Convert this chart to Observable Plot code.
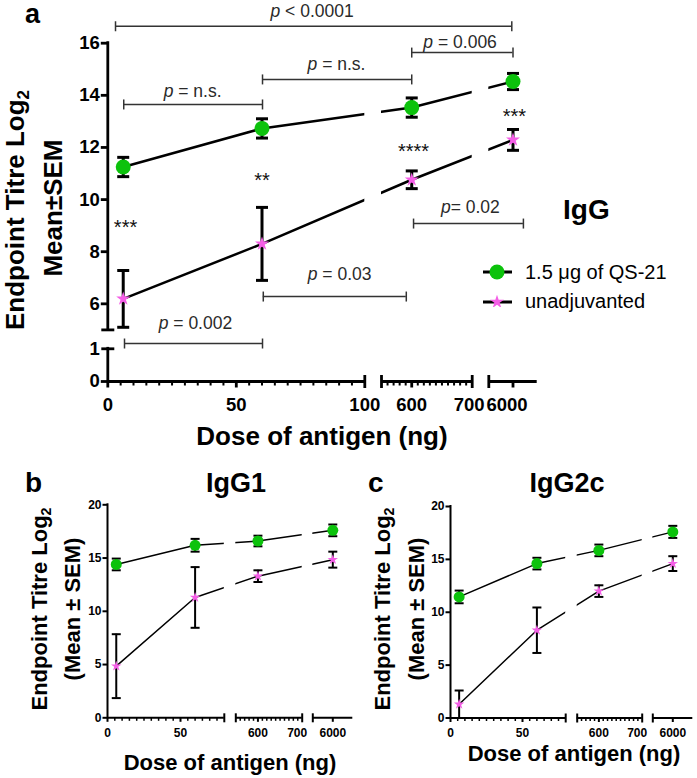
<!DOCTYPE html>
<html><head><meta charset="utf-8">
<script src="https://cdn.jsdelivr.net/npm/d3@7"></script>
<script src="https://cdn.jsdelivr.net/npm/@observablehq/plot@0.6"></script>
<style>
html,body{margin:0;padding:0;background:#fff;}
#root{position:relative;width:697px;height:778px;overflow:hidden;font-family:Arial,"Liberation Sans",Helvetica,sans-serif;color:#000;}
#root svg{position:absolute;}
.abs{position:absolute;white-space:nowrap;line-height:1;}
.rot{transform:translate(-50%,-50%) rotate(-90deg);}
.hc{transform:translateX(-50%);}
.sub{font-size:0.65em;position:relative;top:0.3em;}
</style></head>
<body><div id="root"></div>
<script>
// ---------------- data ----------------
const doses = [6, 60, 600, 6000];
const seriesNames = ["1.5 μg of QS-21", "unadjuvanted"];
// panel a: IgG
const iggQS21 = [11.25, 12.73, 13.53, 14.53];
const iggQS21Sem = [0.37, 0.37, 0.37, 0.31];
const iggUnadj = [6.19, 8.3, 10.76, 12.29];
const iggUnadjSem = [1.09, 1.4, 0.34, 0.4];
// panel b: IgG1
const igg1QS21 = [14.4, 16.2, 16.6, 17.6];
const igg1QS21Sem = [0.55, 0.6, 0.5, 0.55];
const igg1Unadj = [4.85, 11.3, 13.3, 14.85];
const igg1UnadjSem = [3.0, 2.85, 0.55, 0.75];
// panel c: IgG2c
const igg2cQS21 = [11.45, 14.6, 15.85, 17.6];
const igg2cQS21Sem = [0.6, 0.55, 0.55, 0.57];
const igg2cUnadj = [1.3, 8.3, 12.0, 14.6];
const igg2cUnadjSem = [1.3, 2.15, 0.55, 0.7];

// tick labels
const xTickLabelsA = [0, 50, 100, 600, 700, 6000];
const yTickLabelsA = [0, 1, 6, 8, 10, 12, 14, 16];
const xTickLabelsBC = [0, 50, 600, 700, 6000];
const yTickLabelsBC = [0, 5, 10, 15, 20];

// significance annotations (panel a)
const pLabelsA = ["p < 0.0001", "p = n.s.", "p = n.s.", "p = 0.006", "p= 0.02", "p = 0.03", "p = 0.002"];
const pFromA = [3, 6.2, 60.2, 600, 603, 60.5, 6.5];
const pToA = [5950, 60.2, 600, 6000, 6430, 591, 60.2];
const pBarLevelA = [16.65, 13.65, 14.61, 15.64, 9.08, 6.28, 2.12];
const pTextXA = [79.5, 33, 89, 680, 697, 90.2, 34.1];
const pTextLevelA = [16.99, 13.92, 14.99, 15.83, 9.5, 6.93, 5.05];
const starLabelsA = ["***", "**", "****", "***"];
const starXA = [6.9, 60, 603, 6060];
const starLevelA = [8.67, 10.48, 11.59, 12.95];

// ---------------- helpers ----------------
const GREEN = "#0cc20c", PINK = "#f45ee6";
const FONT = "Arial, 'Liberation Sans', Helvetica, sans-serif";
const sym = (f) => ({draw(ctx, size) { const r = Math.sqrt(size / Math.PI); f(ctx, r); }});
const hBar = sym((c, r) => { c.moveTo(-r, 0); c.lineTo(r, 0); });
const vBar = sym((c, r) => { c.moveTo(0, -r); c.lineTo(0, r); });
const vDown = sym((c, r) => { c.moveTo(0, 0); c.lineTo(0, r); });
const hLeft = sym((c, r) => { c.moveTo(0, 0); c.lineTo(-r, 0); });

function rows(vals, sems) { return doses.map((d, i) => ({dose: d, mean: vals[i], sem: sems[i]})); }

function buildPanel(cfg) {
  const s = cfg.style;
  const qs = rows(cfg.qs, cfg.qsSem), un = rows(cfg.un, cfg.unSem);
  const all = qs.concat(un);
  const k = {stroke: "#000", fill: "none"};
  const marks = [
    Plot.line(qs, {x: "dose", y: "mean", stroke: "#000", strokeWidth: s.line}),
    Plot.line(un, {x: "dose", y: "mean", stroke: "#000", strokeWidth: s.line}),
    Plot.rect(cfg.gaps, {x1: d => d[0], x2: d => d[1], y1: cfg.maskY[0], y2: cfg.maskY[1], fill: "#fff"}),
    Plot.ruleX(all, {x: "dose", y1: d => d.mean - d.sem, y2: d => d.mean + d.sem, stroke: "#000", strokeWidth: s.err}),
    Plot.dot(all, {x: "dose", y: d => d.mean + d.sem, symbol: hBar, r: s.cap, strokeWidth: s.err, ...k}),
    Plot.dot(all, {x: "dose", y: d => d.mean - d.sem, symbol: hBar, r: s.cap, strokeWidth: s.err, ...k}),
    Plot.dot(qs, {x: "dose", y: "mean", r: s.dotR, fill: GREEN, stroke: "none"}),
    Plot.dot(un, {x: "dose", y: "mean", symbol: "star", r: s.starR, fill: PINK, stroke: "none"}),
    // axes lines
    Plot.ruleY(cfg.xSegments, {x1: d => d[0], x2: d => d[1], y: 0, stroke: "#000", strokeWidth: s.axis}),
    Plot.ruleX(cfg.ySegments, {x: 0, y1: d => d[0], y2: d => d[1], stroke: "#000", strokeWidth: s.axis, strokeLinecap: "square"}),
    // ticks
    Plot.dot(cfg.yTicks, {x: 0, y: d => d, symbol: hLeft, r: s.yTick, strokeWidth: s.axis, ...k}),
    Plot.dot(cfg.yCaps, {x: 0, y: d => d, symbol: hBar, r: s.capCross, strokeWidth: s.axis, ...k}),
    Plot.dot(cfg.xMajor, {x: d => d, y: 0, symbol: vDown, r: s.xMajor, strokeWidth: s.axis, ...k}),
    Plot.dot(cfg.xMinor, {x: d => d, y: 0, symbol: vDown, r: s.xMinor, strokeWidth: s.minorW, ...k}),
    Plot.dot(cfg.xCaps, {x: d => d, y: 0, symbol: vBar, r: s.capCross, strokeWidth: s.axis, ...k}),
    // tick labels
    Plot.text(cfg.yLabels, {x: 0, y: d => d, text: d => String(d), dx: -s.yLabelDx, textAnchor: "end",
      fontSize: s.labelSize, fontWeight: "bold", fill: "#000"}),
    ...cfg.xLabels.map(v => Plot.text([v], {x: d => d, y: 0, text: d => String(d), dy: s.xLabelDy,
      dx: (cfg.xLabelShift[v] || 0), lineAnchor: "bottom", fontSize: s.labelSize, fontWeight: "bold", fill: "#000"})),
    ...(cfg.extra || [])
  ];
  const svg = Plot.plot({
    width: cfg.width, height: cfg.height,
    marginLeft: 0, marginRight: 0, marginTop: 0, marginBottom: 0,
    x: {type: "linear", domain: cfg.xDomain, range: cfg.xRange, axis: null},
    y: {type: "linear", domain: cfg.yDomain, range: cfg.yRange, axis: null},
    style: {fontFamily: FONT, background: "none", overflow: "visible"},
    marks
  });
  svg.style.position = "absolute";
  svg.style.left = cfg.left + "px";
  svg.style.top = cfg.top + "px";
  svg.style.maxWidth = "none";
  return svg;
}

const minorA = d3.range(5, 100, 5).filter(v => v !== 50).concat(d3.range(560, 700, 10).filter(v => v !== 600));
const minorBC = d3.range(5, 80, 5).filter(v => v !== 50).concat(d3.range(560, 700, 10).filter(v => v !== 600));

// annotations for panel a
const pRows = pLabelsA.map((l, i) => ({label: l, x1: pFromA[i], x2: pToA[i], y: pBarLevelA[i], tx: pTextXA[i], ty: pTextLevelA[i]}));
const starRows = starLabelsA.map((l, i) => ({label: l, x: starXA[i], y: starLevelA[i]}));
const annot = [
  Plot.ruleY(pRows, {x1: "x1", x2: "x2", y: "y", stroke: "#333", strokeWidth: 1.5}),
  Plot.dot(pRows, {x: "x1", y: "y", symbol: vBar, r: 5, stroke: "#333", strokeWidth: 1.5, fill: "none"}),
  Plot.dot(pRows, {x: "x2", y: "y", symbol: vBar, r: 5, stroke: "#333", strokeWidth: 1.5, fill: "none"}),
  Plot.text(pRows, {x: "tx", y: "ty", text: "label", lineAnchor: "bottom", fontSize: 17.5, fill: "#2a2a2a"}),
  Plot.text(starRows, {x: "x", y: "y", text: "label", lineAnchor: "bottom", fontSize: 20, fill: "#111"})
];

const root = document.getElementById("root");

const svgA = buildPanel({
  left: 0, top: 0, width: 697, height: 450,
  xDomain: [0, 100, 550, 700, 5000, 7000], xRange: [107.3, 364.3, 381, 471.7, 488.3, 536.7],
  yDomain: [0, 1, 5, 16], yRange: [381, 348.3, 329.4, 42.7],
  qs: iggQS21, qsSem: iggQS21Sem, un: iggUnadj, unSem: iggUnadjSem,
  gaps: [[100, 550], [700, 5000]], maskY: [5.5, 15.9],
  xSegments: [[0, 100], [550, 700], [5000, 7000]], ySegments: [[0, 1], [5, 16]],
  yTicks: [0, 6, 8, 10, 12, 14, 16], yCaps: [1, 5],
  xMajor: [0, 50, 600, 6000], xMinor: minorA, xCaps: [100, 550, 700, 5000],
  yLabels: yTickLabelsA, xLabels: xTickLabelsA, xLabelShift: {700: -3, 6000: -6},
  style: {line: 2.5, err: 3, cap: 6, dotR: 7.5, starR: 4.4, axis: 2.8, minorW: 2, yTick: 7, xMajor: 6, xMinor: 4,
    capCross: 6.5, labelSize: 18.5, xLabelDy: 29, yLabelDx: 8},
  extra: annot
});
root.appendChild(svgA);

// italic "p" in p-value labels
d3.select(svgA).selectAll("text").each(function() {
  const t = this.textContent;
  if (/^p[ =<]/.test(t)) {
    const sel = d3.select(this);
    sel.text(null);
    sel.append("tspan").attr("font-style", "italic").text("p");
    sel.append("tspan").text(t.slice(1));
  }
});

const styleBC = {line: 1.5, err: 2, cap: 4.5, dotR: 5.5, starR: 3.3, axis: 2, minorW: 1.5, yTick: 5, xMajor: 4, xMinor: 3,
  capCross: 4.5, labelSize: 12, xLabelDy: 19, yLabelDx: 6};

const svgB = buildPanel({
  left: 0, top: 450, width: 360, height: 328,
  xDomain: [0, 80, 550, 700, 5000, 7000], xRange: [107, 223.8, 235.3, 301.7, 312.3, 352.3],
  yDomain: [0, 20], yRange: [267.3, 54.3],
  qs: igg1QS21, qsSem: igg1QS21Sem, un: igg1Unadj, unSem: igg1UnadjSem,
  gaps: [[80, 550], [700, 5000]], maskY: [1, 19.5],
  xSegments: [[0, 80], [550, 700], [5000, 7000]], ySegments: [[0, 20]],
  yTicks: yTickLabelsBC, yCaps: [],
  xMajor: [0, 50, 600, 6000], xMinor: minorBC, xCaps: [80, 550, 700, 5000],
  yLabels: yTickLabelsBC, xLabels: xTickLabelsBC, xLabelShift: {700: -5},
  style: styleBC
});
root.appendChild(svgB);

const svgC = buildPanel({
  left: 340, top: 450, width: 357, height: 328,
  xDomain: [0, 80, 550, 700, 5000, 7000], xRange: [110, 225.2, 236.7, 301.7, 312.3, 352.3],
  yDomain: [0, 20], yRange: [267.5, 56],
  qs: igg2cQS21, qsSem: igg2cQS21Sem, un: igg2cUnadj, unSem: igg2cUnadjSem,
  gaps: [[80, 550], [700, 5000]], maskY: [1, 19.5],
  xSegments: [[0, 80], [550, 700], [5000, 7000]], ySegments: [[0, 20]],
  yTicks: yTickLabelsBC, yCaps: [],
  xMajor: [0, 50, 600, 6000], xMinor: minorBC, xCaps: [80, 550, 700, 5000],
  yLabels: yTickLabelsBC, xLabels: xTickLabelsBC, xLabelShift: {700: -5},
  style: styleBC
});
root.appendChild(svgC);

// ---------------- text: titles, labels, legend ----------------
function addDiv(html, css, cls) {
  const d = document.createElement("div");
  d.className = "abs " + (cls || "");
  d.innerHTML = html;
  Object.assign(d.style, css);
  root.appendChild(d);
  return d;
}
const yTitle1 = 'Endpoint Titre Log<span class="sub">2</span>';
// panel a
addDiv("a", {left: "25px", top: "1px", fontSize: "27px", fontWeight: "bold"});
addDiv(yTitle1, {left: "14.6px", top: "210px", fontSize: "26px", fontWeight: "bold"}, "rot");
addDiv("Mean±SEM", {left: "52.6px", top: "208px", fontSize: "26px", fontWeight: "bold"}, "rot");
addDiv("Dose of antigen (ng)", {left: "322px", top: "423px", fontSize: "26px", fontWeight: "bold"}, "hc");
addDiv("IgG", {left: "563px", top: "196px", fontSize: "28px", fontWeight: "bold"});
addDiv(seriesNames[0], {left: "525px", top: "262px", fontSize: "20px"});
addDiv(seriesNames[1], {left: "525px", top: "291px", fontSize: "20px"});
// legend markers
const leg = d3.select(root).append("svg").attr("width", 40).attr("height", 50)
  .style("left", "478px").style("top", "257px");
leg.append("line").attr("x1", 5).attr("x2", 34).attr("y1", 15).attr("y2", 15).attr("stroke", "#000").attr("stroke-width", 3);
leg.append("circle").attr("cx", 19).attr("cy", 15).attr("r", 7.5).attr("fill", GREEN);
leg.append("line").attr("x1", 5).attr("x2", 34).attr("y1", 45).attr("y2", 45).attr("stroke", "#000").attr("stroke-width", 3);
leg.append("path").attr("d", d3.symbol(d3.symbolStar, Math.PI * 4.4 * 4.4)()).attr("transform", "translate(19,45)").attr("fill", PINK);
// panel b
addDiv("b", {left: "25px", top: "469px", fontSize: "28px", fontWeight: "bold"});
addDiv("IgG1", {left: "236px", top: "470px", fontSize: "27px", fontWeight: "bold"}, "hc");
addDiv(yTitle1, {left: "40.1px", top: "609px", fontSize: "22px", fontWeight: "bold"}, "rot");
addDiv("(Mean ± SEM)", {left: "73.4px", top: "609px", fontSize: "22px", fontWeight: "bold"}, "rot");
addDiv("Dose of antigen (ng)", {left: "230px", top: "752px", fontSize: "22px", fontWeight: "bold"}, "hc");
// panel c
addDiv("c", {left: "368px", top: "469px", fontSize: "28px", fontWeight: "bold"});
addDiv("IgG2c", {left: "567px", top: "470px", fontSize: "27px", fontWeight: "bold"}, "hc");
addDiv(yTitle1, {left: "383.4px", top: "609px", fontSize: "22px", fontWeight: "bold"}, "rot");
addDiv("(Mean ± SEM)", {left: "416.7px", top: "609px", fontSize: "22px", fontWeight: "bold"}, "rot");
addDiv("Dose of antigen (ng)", {left: "574px", top: "743px", fontSize: "22px", fontWeight: "bold"}, "hc");
</script>
</body></html>
